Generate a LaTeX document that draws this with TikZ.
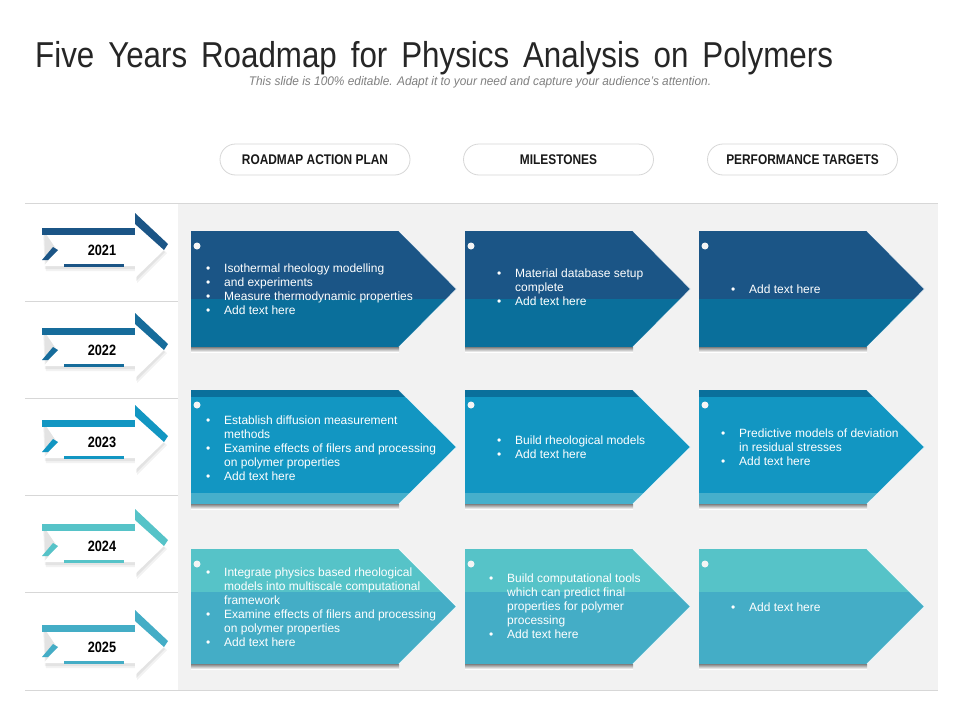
\documentclass[tikz,border=0pt]{standalone}
\usepackage{fontspec}
\setmainfont{Liberation Sans}
\newfontfamily\titlefont[FakeStretch=0.87,WordSpace=1.6]{Liberation Sans}
\newfontfamily\subfont[FakeStretch=0.95]{Liberation Sans}
\newfontfamily\condfont[FakeStretch=0.85]{Liberation Sans}
\definecolor{navy}{RGB}{27,85,134}
\definecolor{ocean}{RGB}{10,111,155}
\definecolor{yr2}{RGB}{22,108,155}
\definecolor{sky}{RGB}{18,150,194}
\definecolor{skylight}{RGB}{70,175,203}
\definecolor{teal}{RGB}{86,195,200}
\definecolor{aqua}{RGB}{68,173,198}
\definecolor{panel}{RGB}{242,242,242}
\definecolor{rule}{RGB}{215,215,215}
\definecolor{shade}{RGB}{222,222,222}
\newcommand\bl{\strut\llap{\textbullet\hspace{14pt}}}
\newcommand\cl{\strut}
% year arrow: #1 centre y, #2 colour
\newcommand\yeararrow[2]{%
  \fill[black,opacity=.05] (44,#1-19) -- (137,#1-19) -- (137,#1-24) -- (167,#1+3) -- (137,#1+33) -- (137,#1+21) -- (46,#1+21) -- cycle;
  \fill[black,opacity=.06] (43,#1-20) -- (136,#1-20) -- (136,#1-25) -- (165,#1+2) -- (136,#1+31) -- (136,#1+19) -- (45,#1+19) -- cycle;
  \fill[white] (42,#1-22) -- (135,#1-22) -- (135,#1-26) -- (164,#1) -- (135,#1+28) -- (135,#1+16) -- (44,#1+16) -- (57,#1) -- cycle;
  \fill[#2] (42,#1-22) rectangle (135,#1-15);
  \fill[#2] (135,#1-37) -- (168,#1-6) -- (164,#1) -- (135,#1-26) -- cycle;
  \fill[#2] (42,#1+10) -- (53,#1-3) -- (58,#1) -- (48,#1+10) -- cycle;
  \fill[#2] (64,#1+14) rectangle (124,#1+17);
}
% card: #1 x, #2 rect width, #3 top y, #4 height, #5 band fills
\newcommand\card[5]{%
  \fill[shade] (#1,#3+#4) rectangle (#1+#2,#3+#4+5);
  \begin{scope}
    \clip (#1,#3) -- (#1+#2,#3) -- (#1+#2+57.5,#3+#4/2) -- (#1+#2,#3+#4) -- (#1,#3+#4) -- cycle;
    #5
  \end{scope}
  \draw[white,opacity=.8,line width=0.8pt] (#1+#2,#3) -- (#1+#2+57.5,#3+#4/2) -- (#1+#2,#3+#4);
  \fill[white!92!gray] (#1+6,#3+15) circle (3.5);
}
\begin{document}
\begin{tikzpicture}[x=1pt,y=-1pt,
  cardtext/.style={font=\fontsize{12}{14}\selectfont, text=white, align=left, inner sep=0pt, anchor=north west},
  pill/.style={draw=rule, fill=white, line width=0.8pt, rounded corners=15.5pt, minimum width=190pt, minimum height=31pt, inner sep=0pt, font=\condfont\bfseries\fontsize{14}{14}\selectfont, text=black!90},
  yeartext/.style={font=\condfont\bfseries\fontsize{15}{15}\selectfont, text=black, inner sep=0pt}]
\useasboundingbox (0,0) rectangle (960,720);
\fill[white] (0,0) rectangle (960,720);

% title
\node[anchor=base west, inner sep=0pt, font=\titlefont\fontsize{36}{36}\selectfont, text=black!85] (title) at (35,67) {Five Years Roadmap for Physics Analysis on Polymers};
\node[inner sep=0pt, font=\subfont\itshape\fontsize{12.5}{12.5}\selectfont, text=black!50] (sub) at (480,82) {This slide is 100\% editable. Adapt it to your need and capture your audience’s attention.};

% headers
\node[pill] (h1) at (315,159.5) {ROADMAP ACTION PLAN};
\node[pill] (h2) at (558.5,159.5) {MILESTONES};
\node[pill] (h3) at (802.5,159.5) {PERFORMANCE TARGETS};

% panel and rules
\fill[panel] (178,203) rectangle (938,690);
\draw[rule, line width=0.8pt] (25,203) -- (938,203);
\draw[rule, line width=0.8pt] (25,690) -- (938,690);
\foreach \yy in {301,398,495,592} \draw[rule, line width=0.8pt] (25,\yy) -- (178,\yy);

% year arrows
\yeararrow{250}{navy}
\node[yeartext] (y2021) at (102,250) {2021};
\yeararrow{350}{yr2}
\node[yeartext] (y2022) at (102,350) {2022};
\yeararrow{442}{sky}
\node[yeartext] (y2023) at (102,442) {2023};
\yeararrow{546}{teal}
\node[yeartext] (y2024) at (102,546) {2024};
\yeararrow{647}{aqua}
\node[yeartext] (y2025) at (102,647) {2025};

% row 1 cards
\foreach \cx/\cw in {191/208,465/168,699/168}{
  \card{\cx}{\cw}{231}{116}{\fill[navy] (\cx,231) rectangle (\cx+\cw+60,299); \fill[ocean] (\cx,299) rectangle (\cx+\cw+60,347);}
}
% row 2 cards
\foreach \cx/\cw in {191/208,465/168,699/168}{
  \card{\cx}{\cw}{390}{114}{\fill[ocean] (\cx,390) rectangle (\cx+\cw+60,397); \fill[sky] (\cx,397) rectangle (\cx+\cw+60,493); \fill[skylight] (\cx,493) rectangle (\cx+\cw+60,504);}
}
% row 3 cards
\foreach \cx/\cw in {191/208,465/168,699/168}{
  \card{\cx}{\cw}{549}{115}{\fill[teal] (\cx,549) rectangle (\cx+\cw+60,592); \fill[aqua] (\cx,592) rectangle (\cx+\cw+60,664);}
}

% card texts
\node[cardtext] (t11) at (224,262) {\bl Isothermal rheology modelling\\ \bl and experiments\\ \bl Measure thermodynamic properties\\ \bl Add text here};
\node[cardtext] (t12) at (515,267) {\bl Material database setup\\ \cl complete\\ \bl Add text here};
\node[cardtext] (t13) at (749,283) {\bl Add text here};
\node[cardtext] (t21) at (224,414) {\bl Establish diffusion measurement\\ \cl methods\\ \bl Examine effects of filers and processing\\ \cl on polymer properties\\ \bl Add text here};
\node[cardtext] (t22) at (515,434) {\bl Build rheological models\\ \bl Add text here};
\node[cardtext] (t23) at (739,427) {\bl Predictive models of deviation\\ \cl in residual stresses\\ \bl Add text here};
\node[cardtext] (t31) at (224,566) {\bl Integrate physics based rheological\\ \cl models into multiscale computational\\ \cl framework\\ \bl Examine effects of filers and processing\\ \cl on polymer properties\\ \bl Add text here};
\node[cardtext] (t32) at (507,572) {\bl Build computational tools\\ \cl which can predict final\\ \cl properties for polymer\\ \cl processing\\ \bl Add text here};
\node[cardtext] (t33) at (749,601) {\bl Add text here};
\end{tikzpicture}
\end{document}
